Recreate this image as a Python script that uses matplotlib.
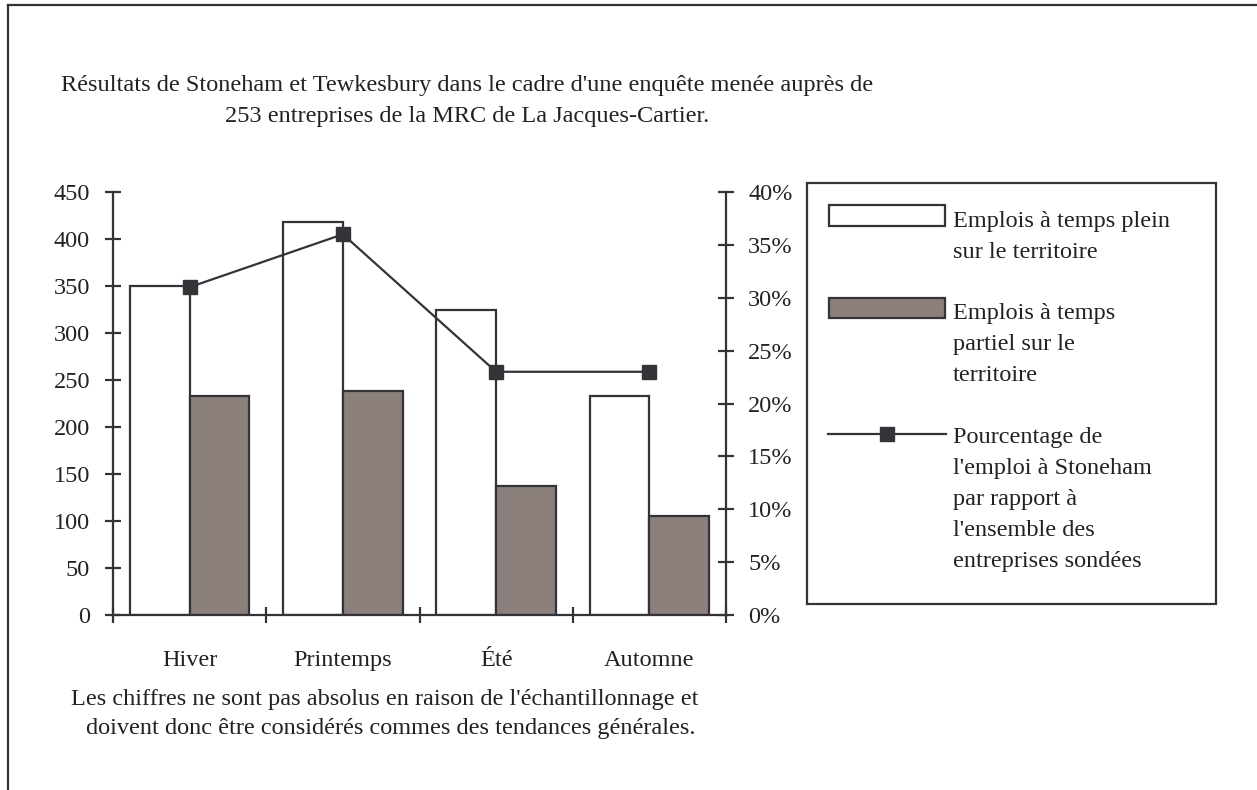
import matplotlib
matplotlib.use("Agg")
import matplotlib.pyplot as plt
import numpy as np
from matplotlib.lines import Line2D
from matplotlib.patches import Rectangle
from matplotlib.ticker import FuncFormatter, MultipleLocator

plt.rcParams['font.family'] = ['Liberation Serif', 'DejaVu Serif']

saisons = ["Hiver", "Printemps", "Été", "Automne"]
plein = [350, 418, 324, 233]
partiel = [233, 238, 137, 105]
pct_stoneham = [31, 36, 23, 23]

titre = ["Résultats de Stoneham et Tewkesbury dans le cadre d'une enquête menée auprès de",
         "253 entreprises de la MRC de La Jacques-Cartier."]
note = ["Les chiffres ne sont pas absolus en raison de l'échantillonnage et",
        "doivent donc être considérés commes des tendances générales."]
leg_labels = [["Emplois à temps plein", "sur le territoire"],
              ["Emplois à temps", "partiel sur le", "territoire"],
              ["Pourcentage de", "l'emploi à Stoneham", "par rapport à",
               "l'ensemble des", "entreprises sondées"]]

W, H = 1257, 790
dark = '#333338'
gris = '#8c807c'
txt = '#222222'
fs = 17.5

fig = plt.figure(figsize=(W / 100, H / 100), dpi=100)

def fx(px):
    return px / W

def fy(py):
    return 1 - py / H

# outer frame (right and bottom edges fall outside the picture)
fig.add_artist(Line2D([fx(8), fx(8)], [fy(5), 0], color=dark, lw=1.6))
fig.add_artist(Line2D([fx(8), 1], [fy(5), fy(5)], color=dark, lw=1.6))

ax = fig.add_axes([fx(113), fy(615), fx(726) - fx(113), fy(192) - fy(615)])
x = np.arange(len(saisons))
w = 0.39
ax.bar(x - w / 2, plein, w, color='white', edgecolor=dark, linewidth=1.6)
ax.bar(x + w / 2, partiel, w, color=gris, edgecolor=dark, linewidth=1.6)
ax.set_xlim(-0.5, len(saisons) - 0.5)
ax.set_ylim(0, 450)
ax.yaxis.set_major_locator(MultipleLocator(50))

ax.set_xticks(np.arange(len(saisons) + 1) - 0.5)
ax.set_xticklabels([])
ax.set_xticks(x, minor=True)
ax.set_xticklabels(saisons, minor=True)
ax.tick_params(axis='x', which='major', direction='inout', length=12, width=1.6, color=dark)
ax.tick_params(axis='x', which='minor', length=0, pad=25, labelsize=fs, labelcolor=txt)
ax.tick_params(axis='y', direction='inout', length=12, width=1.6, color=dark,
               pad=10.6, labelsize=fs, labelcolor=txt)
for s in ['top', 'right']:
    ax.spines[s].set_visible(False)
for s in ['left', 'bottom']:
    ax.spines[s].set_color(dark)
    ax.spines[s].set_linewidth(1.6)

ax2 = ax.twinx()
ax2.plot(x, pct_stoneham, color=dark, lw=1.6, marker='s', markersize=10)
ax2.set_ylim(0, 40)
ax2.yaxis.set_major_locator(MultipleLocator(5))
ax2.yaxis.set_major_formatter(FuncFormatter(lambda v, p: f"{v:.0f}%"))
ax2.tick_params(axis='y', direction='inout', length=12, width=1.6, color=dark,
                pad=10, labelsize=fs, labelcolor=txt)
for s in ['top', 'left', 'bottom']:
    ax2.spines[s].set_visible(False)
ax2.spines['right'].set_color(dark)
ax2.spines['right'].set_linewidth(1.6)

# title and note
for ligne, by in zip(titre, [91, 122]):
    fig.text(fx(467), fy(by), ligne, ha='center', va='baseline', fontsize=fs, color=txt)
for ligne, bx, by in zip(note, [385, 391], [705, 734]):
    fig.text(fx(bx), fy(by), ligne, ha='center', va='baseline', fontsize=fs, color=txt)

# legend box drawn by hand to keep the multi-line layout
fig.add_artist(Rectangle((fx(807), fy(604)), fx(1216) - fx(807), fy(183) - fy(604),
                         facecolor='white', edgecolor=dark, lw=1.6, transform=fig.transFigure))
fig.add_artist(Rectangle((fx(829), fy(226)), fx(945) - fx(829), fy(205) - fy(226),
                         facecolor='white', edgecolor=dark, lw=1.6, transform=fig.transFigure))
fig.add_artist(Rectangle((fx(829), fy(318)), fx(945) - fx(829), fy(298) - fy(318),
                         facecolor=gris, edgecolor=dark, lw=1.6, transform=fig.transFigure))
fig.add_artist(Line2D([fx(828), fx(946)], [fy(434), fy(434)], color=dark, lw=1.6))
fig.add_artist(Line2D([fx(887)], [fy(434)], color=dark, marker='s', markersize=10))
starts = [227, 319, 443]
for lignes, b0 in zip(leg_labels, starts):
    for i, t in enumerate(lignes):
        fig.text(fx(953), fy(b0 + 31 * i), t, ha='left', va='baseline', fontsize=fs, color=txt)

fig.savefig("out.png", dpi=100)
